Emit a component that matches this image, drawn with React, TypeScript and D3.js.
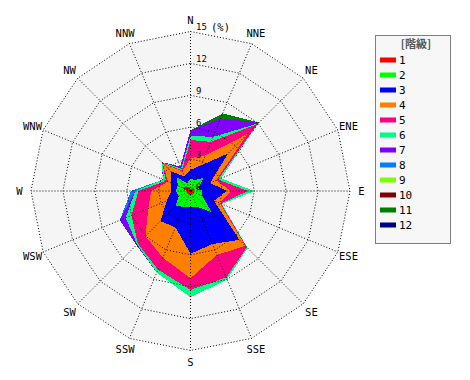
import React from "react";
import * as d3 from "d3";

const directions = ["N", "NNE", "NE", "ENE", "E", "ESE", "SE", "SSE", "S", "SSW", "SW", "WSW", "W", "WNW", "NW", "NNW"];
const classNames = ["1", "2", "3", "4", "5", "6", "7", "8", "9", "10", "11", "12"];
const classColors = ["#ff0000", "#00ff00", "#0000ff", "#ff8000", "#ff0080", "#00ff80", "#8000ff", "#0080ff", "#80ff00", "#800000", "#008000", "#000080"];
const ticks = [3, 6, 9, 12, 15];

// frequency (%) of each class per direction (N, NNE, ... NNW)
const class1 = [0.2, 0.2, 0.3, 0.2, 0.3, 0.2, 0.3, 0.3, 0.5, 0.3, 0.3, 0.3, 0.4, 0.9, 0.5, 0.3];
const class2 = [1.0, 0.9, 1.5, 0.6, 0.8, 1.0, 2.5, 1.3, 1.0, 1.3, 1.7, 0.9, 1.0, 0.4, 1.3, 0.5];
const class3 = [0.8, 1.5, 3.2, 1.2, 2.3, 1.2, 3.7, 3.8, 4.4, 2.1, 2.0, 1.2, 0.4, 0.7, 0.8, 0.7];
const class4 = [1.1, 1.0, 2.6, 0.6, 0.4, 0.6, 0.8, 1.1, 2.3, 3.1, 2.0, 1.9, 1.9, 0.3, 1.1, 0.5];
const class5 = [1.7, 1.4, 1.3, 0.2, 1.6, 0.1, 0.2, 2.3, 1.1, 1.2, 1.0, 1.7, 1.2, 0.2, 0.05, 0.1];
const class6 = [0.4, 0.5, 0.1, 0.3, 0.6, 0.1, 0.1, 0.2, 0.7, 0.3, 0.1, 0.6, 0.3, 0.3, 0.05, 0.2];
const class7 = [0.5, 1.9, 0.05, 0, 0, 0, 0, 0, 0, 0, 0.1, 0.6, 0, 0, 0.05, 0.2];
const class8 = [0, 0, 0, 0, 0, 0, 0, 0, 0, 0, 0, 0, 0.4, 0, 0, 0];
const class9 = [0, 0, 0, 0, 0, 0, 0, 0, 0, 0, 0, 0, 0, 0, 0, 0];
const class10 = [0, 0, 0, 0, 0, 0, 0, 0, 0, 0, 0, 0, 0, 0, 0, 0];
const class11 = [0, 0.5, 0.05, 0, 0, 0, 0, 0, 0, 0, 0, 0, 0, 0, 0, 0];
const class12 = [0, 0, 0, 0, 0, 0, 0, 0, 0, 0, 0, 0, 0, 0, 0, 0];

const classValues = [class1, class2, class3, class4, class5, class6, class7, class8, class9, class10, class11, class12];

export default function App() {
  const width = 470;
  const height = 380;
  const cx = 190.5;
  const cy = 191;
  const R = 159.5;
  const maxV = 15;
  const n = directions.length;

  const r = d3.scaleLinear().domain([0, maxV]).range([0, R]);
  const angle = (i: number) => (i * 2 * Math.PI) / n;

  // cumulative stacks
  const cum: number[][] = classValues.map(() => new Array(n).fill(0));
  for (let d = 0; d < n; d++) {
    let s = 0;
    for (let k = 0; k < classValues.length; k++) {
      s += classValues[k][d];
      cum[k][d] = s;
    }
  }

  const radial = d3
    .lineRadial<number>()
    .angle((_, i) => angle(i))
    .radius((v) => r(v))
    .curve(d3.curveLinearClosed);

  const ring = (v: number) => radial(new Array(n).fill(v)) as string;

  const pt = (i: number, rad: number) => [Math.sin(angle(i)) * rad, -Math.cos(angle(i)) * rad];

  const mono = "'DejaVu Sans Mono', monospace";

  return (
    <svg width={width} height={height} style={{ position: "absolute", left: 0, top: 0, background: "#fff" }}>
      <g transform={`translate(${cx},${cy})`}>
        <path d={ring(maxV)} fill="#f5f5f5" />
        {classValues
          .map((_, k) => k)
          .reverse()
          .map((k) => (
            <path key={k} d={radial(cum[k]) as string} fill={classColors[k]} shapeRendering="crispEdges" />
          ))}
        {ticks.map((t) => (
          <path key={t} d={ring(t)} fill="none" stroke="#000" strokeWidth={1} strokeDasharray="1,2" />
        ))}
        {directions.map((d, i) => {
          const [x, y] = pt(i, R);
          return <line key={d} x1={0} y1={0} x2={x} y2={y} stroke="#000" strokeWidth={1} strokeDasharray="1,2" />;
        })}
        {[0, ...ticks].map((t) => (
          <text key={"t" + t} x={5.5} y={-r(t) - 1.3} fontSize={9} fontFamily={mono} fill="#000">
            {t}
          </text>
        ))}
        <text x={20.5} y={-r(15) - 0.8} fontSize={10.5} fontFamily={mono} fill="#000">(%)</text>
        {directions.map((d, i) => {
          const [x, y] = pt(i, 171);
          return (
            <text key={"l" + d} x={x} y={y} textAnchor="middle" dominantBaseline="central" fontSize={10.5} fontFamily={mono} fill="#000">
              {d}
            </text>
          );
        })}
      </g>
      <g>
        <rect x={375.5} y={35.5} width={75} height={208} fill="#f7f7f7" stroke="#000" strokeDasharray="1,1" />
        <text x={416} y={48} textAnchor="middle" fontSize={11} fontWeight="bold" fontFamily="'Noto Sans CJK JP', sans-serif" fill="#555">
          [階級]
        </text>
        {classNames.map((c, k) => (
          <g key={c} transform={`translate(0,${60 + k * 15})`}>
            <rect x={380} y={-2.5} width={16} height={5} fill={classColors[k]} />
            <text x={399} y={0} dominantBaseline="central" fontSize={11} fontFamily={mono} fill="#000">
              {c}
            </text>
          </g>
        ))}
      </g>
    </svg>
  );
}
